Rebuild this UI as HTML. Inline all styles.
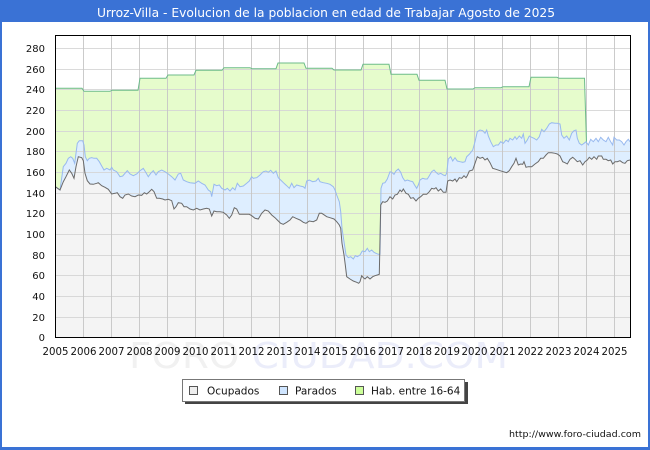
<!DOCTYPE html>
<html><head><meta charset="utf-8"><style>
html,body{margin:0;padding:0;background:#fff;}
svg{display:block;}
text{font-family:"DejaVu Sans","Liberation Sans",sans-serif;}
</style></head><body>
<svg width="650" height="450" viewBox="0 0 650 450" xmlns="http://www.w3.org/2000/svg">
<rect x="0" y="0" width="650" height="450" fill="#3a72d5"/>
<rect x="2" y="22" width="646" height="425" fill="#ffffff"/>
<text x="326" y="17" fill="#ffffff" font-size="12" text-anchor="middle" textLength="458" lengthAdjust="spacingAndGlyphs">Urroz-Villa - Evolucion de la poblacion en edad de Trabajar Agosto de 2025</text>

<!-- watermark -->
<text x="129" y="368" font-size="36" textLength="379" lengthAdjust="spacingAndGlyphs" font-family="Liberation Sans, sans-serif"><tspan fill="#f1f1f1">FORO </tspan><tspan fill="#ebedfa">CIUDAD.COM</tspan></text>

<!-- plot background -->
<rect x="55.5" y="35.5" width="575" height="302" fill="#ffffff"/>

<!-- green area -->
<polygon fill="#e6fccc" points="55,88.3 82,88.3 84,91.3 110,91.3 112,90.3 138,90.3 140,78.3 166,78.3 168,75 194,75 196,70.3 222,70.3 224,67.7 250,67.7 252,68.7 276,68.7 278,63 304,63 306,68.3 332,68.3 334,70 361,70 363,64.3 389,64.3 391,74.3 417,74.3 419,80.3 445,80.3 447,89 473,89 475,87.7 501,87.7 503,86.7 529,86.7 531,77.3 557,77.3 559,78.3 584.5,78.3 586.5,143.3 588.3,145 590.7,139.3 593.3,141.7 596,138.3 598.3,141.7 600.7,137.3 603.3,140 606,141.7 608.3,137.3 610.7,141.7 612.7,145 614,137.3 616.7,140 619.3,140 621.7,141.7 624,145 626,141.7 628.3,139.3 630,141.7 630,337.5 55,337.5"/>

<!-- blue area -->
<polygon fill="#deeeff" points="55.3,186.7 60,190 63.3,166.7 66,163.3 68.3,158.3 70.7,156.7 72.7,158.3 74.7,163.3 77.3,143.3 79.3,140.7 82.7,140.7 84,145 85.3,156.7 87.3,160.7 89.3,158.3 91.7,157.7 94,158.3 96.7,158.3 99.3,161.7 101.7,166 104,170 106.7,168.3 110,170 111.7,167.3 113.3,170 116.7,171.7 120,176.7 122.7,176 125,173.3 127.3,170.7 130,174 133.3,175.7 136.7,174 140,170.7 143.3,168.3 146,172.7 148.3,176.7 150.7,173.3 153.3,170.7 156,175 158.3,171.7 161.7,170 165,171.7 168.3,174 171.7,176.7 175,180 178.3,174 180.7,173.3 183.3,180 186.7,181.7 190,182.7 195,183.3 198.3,181 201.7,183.3 205,185 208.3,190 210.7,191.7 211.7,196.7 214,184.3 216.7,185.7 219.3,185 221.7,188.3 225,190 227.3,188.3 230,191 232.7,187.7 235,190 237.3,183.3 240,186.7 243.3,186 246.7,183.3 249.3,181 251.7,176.7 253.3,178.3 256.7,177.7 260,175 263.3,171.7 266,171 268.3,172.3 270.7,170.3 273.3,173.3 276,171 278.3,177.7 281.7,181 284,183.3 286.7,185.7 289.3,188.3 291.7,183.3 294,187.7 296.7,185 300,186 303.3,186.7 305,188.3 306.7,181 309.3,180 312.7,181.7 316,181 318.3,178.3 320,181.7 323.3,182.7 326.7,183.3 330,184.3 333.3,186.7 335,190 336.7,195 339.3,201.7 340.7,211.7 342,228.3 344,241.7 346,255 348.3,257.7 350.7,256.7 353.3,259 355.3,255.7 357.3,256.7 360,255 362.3,251 365,251.7 367.3,248.3 369.3,251.7 371.7,250 374,252.3 376,253.3 378.3,254.3 380,254.3 381,188.3 382.7,183.3 385,182.7 387.3,179 390,171.7 391.7,172.3 394,174.3 396,171 398.3,169 400.7,172.3 402.7,177.7 405,181 407.3,180 410,181 412.7,181.7 415,185.7 416.7,188.3 418.3,185 420,180 422.7,178.3 425,179 427.3,179 429.3,175.7 431.7,171.7 434,170 436,172.3 438.3,174.3 440.7,173.3 443.3,175 445.3,175.7 446.7,173.3 448.3,159 450.7,156.7 452.7,161 455,157.7 457.3,161 460,161.7 462.7,162.3 465,161.7 466.7,156.7 469.3,154.3 472.7,150 475,141.7 477.3,131.7 480,130 482.7,130.7 485,133.3 486.7,130 488.3,136 490.7,141.7 493.3,146.7 496,145 498.3,145 500.7,141.7 503.3,143.3 506,140 508.3,141.7 510,138.3 512.7,140 515,136.7 516.7,139.3 519.3,136 521.7,138.3 523.3,134 525,143.3 527.3,140 529.3,136 531.7,137.3 534,138.3 536.7,140 539.3,136.7 541.7,129.3 544,131.7 546.7,128.3 549.3,124 551.7,122.7 555,123.3 557.3,123.3 560,124 561.7,135 564,138.3 566.7,136 569.3,140 571.7,133.3 574,130.7 576,130 577.3,138.3 579.3,143.3 581.7,145 584,143.3 586,141.7 588.3,145 590.7,139.3 593.3,141.7 596,138.3 598.3,141.7 600.7,137.3 603.3,140 606,141.7 608.3,137.3 610.7,141.7 612.7,145 614,137.3 616.7,140 619.3,140 621.7,141.7 624,145 626,141.7 628.3,139.3 630,141.7 630,337.5 55.3,337.5"/>

<!-- gray area -->
<polygon fill="#f4f4f4" points="55.3,186.7 60,190 63.3,181.7 66,176.7 69.3,170 71.7,173.3 74,178.3 76,166.7 78.3,156.7 81.7,157.7 83.3,160.7 85,173.3 87.3,180.7 90,184 93.3,184.3 96.7,183.3 98.3,182.7 101.7,185.7 105,187.3 108.3,189.3 111.7,194 115,193.3 117.3,192.7 120,196.7 122.7,198.3 125,195 128.3,194 131.7,196 135,196.7 138.3,195 141.7,195.3 144.3,192.7 146.7,194 149.3,191.7 151.7,189.3 154,191.7 156.7,198.3 159.3,198.3 162.7,199 165,200 168.3,199.3 171.7,200.7 174,209 176,206.7 178.3,202.7 181.7,203.3 184,206.7 186.7,206.7 190,209 193.3,210 196.7,208.3 200,210 203.3,209 206.7,208.3 209.3,209 211.7,216 214,211 216.7,211.7 220,211.7 223.3,212.3 226.7,215 229.3,218.3 231.7,215 234.3,207.7 236.7,209 239.3,214.3 243.3,214.3 249.3,214.3 251.7,215.7 255,218.3 258.3,219 261.7,213.3 265,210 268.3,211 271.7,215 275,217.7 278.3,221 280.7,223.3 283.3,224.3 286.7,222.3 290,220 292.7,216.7 296,218.3 300,220 303.3,222.3 306,223.3 309.3,221 313.3,221.7 316.7,220 319.3,213.3 321.7,213.3 323.3,214.3 326.7,216.7 330,217.7 334,219 336.7,221.7 339.3,225 340.7,228.3 342,243.3 344,255 345.3,265 346.7,276.7 350,279 353.3,281 356.7,282.3 358.7,283.3 360,281.7 361.7,275.7 363.3,277.7 365,279 367.3,276.7 370,279 372.7,276.7 375,275.7 377.3,275 379.3,274.3 380.7,205 382.7,201.7 385,202.3 387.3,201 390,196.7 392.7,199 395,195 397.3,194.3 400,190 401.7,191.7 403.3,189 406,193.3 408.3,194.3 410.7,198.3 413.3,197.7 416,201 418.3,198.3 420.7,196.7 423.3,194.3 426.7,194.3 429.3,191.7 431.7,188.3 434,189 436,187.7 438.3,191 440.7,189 443.3,192.3 446,192.3 447.7,181 450,180 452.7,181 455,179 456.7,181.7 459.3,177.7 461.7,178.3 464,175.7 466,177.7 467.3,175.7 469.3,171 472.7,170 475,163.3 477.3,156.7 480,158.3 482.7,157.3 485,160 487.3,158.3 490,162.7 492.7,168.3 496,169.3 500,170.7 503.3,171.7 506.7,172.7 509.3,170.7 511.7,166.7 514,163.3 516,158.3 518.3,165 520.7,164 522.7,164.3 524,161.7 526,167.3 528.3,166.7 531.7,166.7 535,164 538.3,161.7 540.7,158.3 543.3,158.3 546,155 548.3,152.7 551.7,152.7 555,153.3 557.3,154 560,156 562.7,161.7 565,162.7 567.3,164 570,159.3 572.7,157.3 575,159.3 577.3,161.7 580,160.7 582.7,165 585,161.7 587.3,160 589.3,157.3 591.7,159.3 594,156.7 596.7,159.3 598.3,156 601.7,156 603.3,159.3 606,159.3 608.3,160.7 610.7,160 612.7,164 615,161.7 617.3,161.7 620,160.7 622.7,162.7 625,163.3 627.3,160.7 630,160 630,337.5 55.3,337.5"/>

<!-- grid -->
<g stroke="#d6d6d6" stroke-width="1" opacity="0.9">
<line x1="56" x2="630" y1="48.5" y2="48.5"/>
<line x1="56" x2="630" y1="69.5" y2="69.5"/>
<line x1="56" x2="630" y1="89.5" y2="89.5"/>
<line x1="56" x2="630" y1="110.5" y2="110.5"/>
<line x1="56" x2="630" y1="131.5" y2="131.5"/>
<line x1="56" x2="630" y1="151.5" y2="151.5"/>
<line x1="56" x2="630" y1="172.5" y2="172.5"/>
<line x1="56" x2="630" y1="193.5" y2="193.5"/>
<line x1="56" x2="630" y1="213.5" y2="213.5"/>
<line x1="56" x2="630" y1="234.5" y2="234.5"/>
<line x1="56" x2="630" y1="255.5" y2="255.5"/>
<line x1="56" x2="630" y1="275.5" y2="275.5"/>
<line x1="56" x2="630" y1="296.5" y2="296.5"/>
<line x1="56" x2="630" y1="317.5" y2="317.5"/>
</g>
<g stroke="#c6c6c6" stroke-width="1" opacity="0.9">
<line y1="36" y2="337" x1="83.5" x2="83.5"/>
<line y1="36" y2="337" x1="111.5" x2="111.5"/>
<line y1="36" y2="337" x1="139.5" x2="139.5"/>
<line y1="36" y2="337" x1="167.5" x2="167.5"/>
<line y1="36" y2="337" x1="195.5" x2="195.5"/>
<line y1="36" y2="337" x1="223.5" x2="223.5"/>
<line y1="36" y2="337" x1="251.5" x2="251.5"/>
<line y1="36" y2="337" x1="279.5" x2="279.5"/>
<line y1="36" y2="337" x1="307.5" x2="307.5"/>
<line y1="36" y2="337" x1="335.5" x2="335.5"/>
<line y1="36" y2="337" x1="363.5" x2="363.5"/>
<line y1="36" y2="337" x1="391.5" x2="391.5"/>
<line y1="36" y2="337" x1="419.5" x2="419.5"/>
<line y1="36" y2="337" x1="447.5" x2="447.5"/>
<line y1="36" y2="337" x1="474.5" x2="474.5"/>
<line y1="36" y2="337" x1="502.5" x2="502.5"/>
<line y1="36" y2="337" x1="530.5" x2="530.5"/>
<line y1="36" y2="337" x1="558.5" x2="558.5"/>
<line y1="36" y2="337" x1="586.5" x2="586.5"/>
<line y1="36" y2="337" x1="614.5" x2="614.5"/>
</g>

<!-- lines -->
<polyline fill="none" stroke="#6dbb8a" stroke-width="1" points="55,88.3 82,88.3 84,91.3 110,91.3 112,90.3 138,90.3 140,78.3 166,78.3 168,75 194,75 196,70.3 222,70.3 224,67.7 250,67.7 252,68.7 276,68.7 278,63 304,63 306,68.3 332,68.3 334,70 361,70 363,64.3 389,64.3 391,74.3 417,74.3 419,80.3 445,80.3 447,89 473,89 475,87.7 501,87.7 503,86.7 529,86.7 531,77.3 557,77.3 559,78.3 584.5,78.3 586.5,143.3"/>
<polyline fill="none" stroke="#98b9ef" stroke-width="1" points="55.3,186.7 60,190 63.3,166.7 66,163.3 68.3,158.3 70.7,156.7 72.7,158.3 74.7,163.3 77.3,143.3 79.3,140.7 82.7,140.7 84,145 85.3,156.7 87.3,160.7 89.3,158.3 91.7,157.7 94,158.3 96.7,158.3 99.3,161.7 101.7,166 104,170 106.7,168.3 110,170 111.7,167.3 113.3,170 116.7,171.7 120,176.7 122.7,176 125,173.3 127.3,170.7 130,174 133.3,175.7 136.7,174 140,170.7 143.3,168.3 146,172.7 148.3,176.7 150.7,173.3 153.3,170.7 156,175 158.3,171.7 161.7,170 165,171.7 168.3,174 171.7,176.7 175,180 178.3,174 180.7,173.3 183.3,180 186.7,181.7 190,182.7 195,183.3 198.3,181 201.7,183.3 205,185 208.3,190 210.7,191.7 211.7,196.7 214,184.3 216.7,185.7 219.3,185 221.7,188.3 225,190 227.3,188.3 230,191 232.7,187.7 235,190 237.3,183.3 240,186.7 243.3,186 246.7,183.3 249.3,181 251.7,176.7 253.3,178.3 256.7,177.7 260,175 263.3,171.7 266,171 268.3,172.3 270.7,170.3 273.3,173.3 276,171 278.3,177.7 281.7,181 284,183.3 286.7,185.7 289.3,188.3 291.7,183.3 294,187.7 296.7,185 300,186 303.3,186.7 305,188.3 306.7,181 309.3,180 312.7,181.7 316,181 318.3,178.3 320,181.7 323.3,182.7 326.7,183.3 330,184.3 333.3,186.7 335,190 336.7,195 339.3,201.7 340.7,211.7 342,228.3 344,241.7 346,255 348.3,257.7 350.7,256.7 353.3,259 355.3,255.7 357.3,256.7 360,255 362.3,251 365,251.7 367.3,248.3 369.3,251.7 371.7,250 374,252.3 376,253.3 378.3,254.3 380,254.3 381,188.3 382.7,183.3 385,182.7 387.3,179 390,171.7 391.7,172.3 394,174.3 396,171 398.3,169 400.7,172.3 402.7,177.7 405,181 407.3,180 410,181 412.7,181.7 415,185.7 416.7,188.3 418.3,185 420,180 422.7,178.3 425,179 427.3,179 429.3,175.7 431.7,171.7 434,170 436,172.3 438.3,174.3 440.7,173.3 443.3,175 445.3,175.7 446.7,173.3 448.3,159 450.7,156.7 452.7,161 455,157.7 457.3,161 460,161.7 462.7,162.3 465,161.7 466.7,156.7 469.3,154.3 472.7,150 475,141.7 477.3,131.7 480,130 482.7,130.7 485,133.3 486.7,130 488.3,136 490.7,141.7 493.3,146.7 496,145 498.3,145 500.7,141.7 503.3,143.3 506,140 508.3,141.7 510,138.3 512.7,140 515,136.7 516.7,139.3 519.3,136 521.7,138.3 523.3,134 525,143.3 527.3,140 529.3,136 531.7,137.3 534,138.3 536.7,140 539.3,136.7 541.7,129.3 544,131.7 546.7,128.3 549.3,124 551.7,122.7 555,123.3 557.3,123.3 560,124 561.7,135 564,138.3 566.7,136 569.3,140 571.7,133.3 574,130.7 576,130 577.3,138.3 579.3,143.3 581.7,145 584,143.3 586,141.7 588.3,145 590.7,139.3 593.3,141.7 596,138.3 598.3,141.7 600.7,137.3 603.3,140 606,141.7 608.3,137.3 610.7,141.7 612.7,145 614,137.3 616.7,140 619.3,140 621.7,141.7 624,145 626,141.7 628.3,139.3 630,141.7"/>
<polyline fill="none" stroke="#6a6a6a" stroke-width="1" points="55.3,186.7 60,190 63.3,181.7 66,176.7 69.3,170 71.7,173.3 74,178.3 76,166.7 78.3,156.7 81.7,157.7 83.3,160.7 85,173.3 87.3,180.7 90,184 93.3,184.3 96.7,183.3 98.3,182.7 101.7,185.7 105,187.3 108.3,189.3 111.7,194 115,193.3 117.3,192.7 120,196.7 122.7,198.3 125,195 128.3,194 131.7,196 135,196.7 138.3,195 141.7,195.3 144.3,192.7 146.7,194 149.3,191.7 151.7,189.3 154,191.7 156.7,198.3 159.3,198.3 162.7,199 165,200 168.3,199.3 171.7,200.7 174,209 176,206.7 178.3,202.7 181.7,203.3 184,206.7 186.7,206.7 190,209 193.3,210 196.7,208.3 200,210 203.3,209 206.7,208.3 209.3,209 211.7,216 214,211 216.7,211.7 220,211.7 223.3,212.3 226.7,215 229.3,218.3 231.7,215 234.3,207.7 236.7,209 239.3,214.3 243.3,214.3 249.3,214.3 251.7,215.7 255,218.3 258.3,219 261.7,213.3 265,210 268.3,211 271.7,215 275,217.7 278.3,221 280.7,223.3 283.3,224.3 286.7,222.3 290,220 292.7,216.7 296,218.3 300,220 303.3,222.3 306,223.3 309.3,221 313.3,221.7 316.7,220 319.3,213.3 321.7,213.3 323.3,214.3 326.7,216.7 330,217.7 334,219 336.7,221.7 339.3,225 340.7,228.3 342,243.3 344,255 345.3,265 346.7,276.7 350,279 353.3,281 356.7,282.3 358.7,283.3 360,281.7 361.7,275.7 363.3,277.7 365,279 367.3,276.7 370,279 372.7,276.7 375,275.7 377.3,275 379.3,274.3 380.7,205 382.7,201.7 385,202.3 387.3,201 390,196.7 392.7,199 395,195 397.3,194.3 400,190 401.7,191.7 403.3,189 406,193.3 408.3,194.3 410.7,198.3 413.3,197.7 416,201 418.3,198.3 420.7,196.7 423.3,194.3 426.7,194.3 429.3,191.7 431.7,188.3 434,189 436,187.7 438.3,191 440.7,189 443.3,192.3 446,192.3 447.7,181 450,180 452.7,181 455,179 456.7,181.7 459.3,177.7 461.7,178.3 464,175.7 466,177.7 467.3,175.7 469.3,171 472.7,170 475,163.3 477.3,156.7 480,158.3 482.7,157.3 485,160 487.3,158.3 490,162.7 492.7,168.3 496,169.3 500,170.7 503.3,171.7 506.7,172.7 509.3,170.7 511.7,166.7 514,163.3 516,158.3 518.3,165 520.7,164 522.7,164.3 524,161.7 526,167.3 528.3,166.7 531.7,166.7 535,164 538.3,161.7 540.7,158.3 543.3,158.3 546,155 548.3,152.7 551.7,152.7 555,153.3 557.3,154 560,156 562.7,161.7 565,162.7 567.3,164 570,159.3 572.7,157.3 575,159.3 577.3,161.7 580,160.7 582.7,165 585,161.7 587.3,160 589.3,157.3 591.7,159.3 594,156.7 596.7,159.3 598.3,156 601.7,156 603.3,159.3 606,159.3 608.3,160.7 610.7,160 612.7,164 615,161.7 617.3,161.7 620,160.7 622.7,162.7 625,163.3 627.3,160.7 630,160"/>

<!-- plot border -->
<rect x="55.5" y="35.5" width="575" height="302" fill="none" stroke="#000" stroke-width="1"/>

<!-- y labels -->
<g font-size="10" fill="#111" text-anchor="end">
<text x="45" y="52">280</text>
<text x="45" y="73">260</text>
<text x="45" y="93">240</text>
<text x="45" y="114">220</text>
<text x="45" y="135">200</text>
<text x="45" y="155">180</text>
<text x="45" y="176">160</text>
<text x="45" y="197">140</text>
<text x="45" y="217">120</text>
<text x="45" y="238">100</text>
<text x="45" y="259">80</text>
<text x="45" y="279">60</text>
<text x="45" y="300">40</text>
<text x="45" y="321">20</text>
<text x="45" y="341">0</text>
</g>

<!-- x labels -->
<g font-size="10.2" fill="#111" text-anchor="middle">
<text x="55.5" y="355">2005</text>
<text x="83.5" y="355">2006</text>
<text x="111.5" y="355">2007</text>
<text x="139.5" y="355">2008</text>
<text x="167.5" y="355">2009</text>
<text x="195.5" y="355">2010</text>
<text x="223.5" y="355">2011</text>
<text x="251.5" y="355">2012</text>
<text x="279.5" y="355">2013</text>
<text x="307.5" y="355">2014</text>
<text x="335" y="355">2015</text>
<text x="363" y="355">2016</text>
<text x="391" y="355">2017</text>
<text x="419" y="355">2018</text>
<text x="447" y="355">2019</text>
<text x="474.5" y="355">2020</text>
<text x="502.5" y="355">2021</text>
<text x="530.5" y="355">2022</text>
<text x="558.5" y="355">2023</text>
<text x="586.5" y="355">2024</text>
<text x="614.5" y="355">2025</text>
</g>

<!-- legend -->
<rect x="185" y="382" width="283" height="22" fill="#444"/>
<rect x="182.5" y="379.5" width="282" height="22" fill="#fff" stroke="#777" stroke-width="1"/>
<rect x="189.5" y="386.5" width="8" height="8" fill="#eeeeee" stroke="#555" stroke-width="1"/>
<text x="207" y="394.5" font-size="10.5" fill="#111">Ocupados</text>
<rect x="279.5" y="386.5" width="8" height="8" fill="#cfe5ff" stroke="#555" stroke-width="1"/>
<text x="295" y="394.5" font-size="10.5" fill="#111">Parados</text>
<rect x="355.5" y="386.5" width="8" height="8" fill="#ccff99" stroke="#555" stroke-width="1"/>
<text x="371" y="394.5" font-size="10.5" fill="#111">Hab. entre 16-64</text>

<!-- url -->
<text x="641" y="437" font-size="9" fill="#111" text-anchor="end" textLength="132" lengthAdjust="spacingAndGlyphs">http://www.foro-ciudad.com</text>
</svg>
</body></html>
